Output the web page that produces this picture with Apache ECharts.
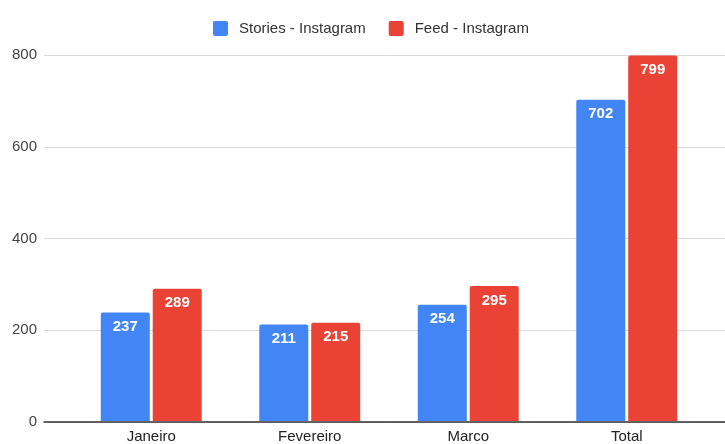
<!DOCTYPE html>
<html>
<head>
<meta charset="utf-8">
<script src="https://cdn.jsdelivr.net/npm/echarts@6/dist/echarts.min.js"></script>
<style>html,body{margin:0;padding:0;background:#fff}#c{width:725px;height:444px}</style>
</head>
<body>
<div id="c"></div>
<script>
const categories = ["Janeiro", "Fevereiro", "Marco", "Total"];
const storiesValues = [237, 211, 254, 702];
const feedValues = [289, 215, 295, 799];
const seriesNames = ["Stories - Instagram", "Feed - Instagram"];
const yTicks = { min: 0, max: 800, interval: 200 };

const font = "Arial, 'Liberation Sans', sans-serif";
const chart = echarts.init(document.getElementById('c'));
const labelStyle = { show: true, position: 'insideTop', distance: 7, color: '#fff', fontSize: 15, fontWeight: 'bold', fontFamily: font };
chart.setOption({
  animation: false,
  legend: {
    top: 16, left: 208, itemWidth: 15, itemHeight: 15, itemGap: 23,
    icon: 'path://M2,0 L13,0 Q15,0 15,2 L15,13 Q15,15 13,15 L2,15 Q0,15 0,13 L0,2 Q0,0 2,0 Z',
    textStyle: { color: '#333', fontSize: 15, fontFamily: font, padding: [0, 0, 0, 6] },
    data: seriesNames
  },
  grid: [
    { left: 44, right: 0, top: 55, bottom: 22 },
    { left: 72, right: 19, top: 55, bottom: 22 }
  ],
  xAxis: [
    { gridIndex: 0, type: 'value', min: 0, max: 1, axisLabel: { show: false }, axisTick: { show: false }, splitLine: { show: false },
      axisLine: { show: true, lineStyle: { color: '#333', width: 1.5 } } },
    { gridIndex: 1, type: 'category', data: categories, axisLine: { show: false }, axisTick: { show: false },
      axisLabel: { color: '#222', fontSize: 15, fontFamily: font, margin: 8 } }
  ],
  yAxis: [
    { gridIndex: 0, type: 'value', min: yTicks.min, max: yTicks.max, interval: yTicks.interval,
      axisLine: { show: false }, axisTick: { show: false },
      axisLabel: { color: '#444', fontSize: 15, fontFamily: font, margin: 7 },
      splitLine: { lineStyle: { color: '#d9d9d9', width: 1 } } },
    { gridIndex: 1, type: 'value', min: yTicks.min, max: yTicks.max, interval: yTicks.interval, show: false }
  ],
  series: [
    { name: seriesNames[0], type: 'bar', xAxisIndex: 1, yAxisIndex: 1, data: storiesValues, barWidth: 49, barGap: '6%',
      itemStyle: { color: '#4285F4', borderRadius: [2, 2, 0, 0] }, label: labelStyle },
    { name: seriesNames[1], type: 'bar', xAxisIndex: 1, yAxisIndex: 1, data: feedValues, barWidth: 49,
      itemStyle: { color: '#EA4335', borderRadius: [2, 2, 0, 0] }, label: labelStyle }
  ]
});
</script>
</body>
</html>
